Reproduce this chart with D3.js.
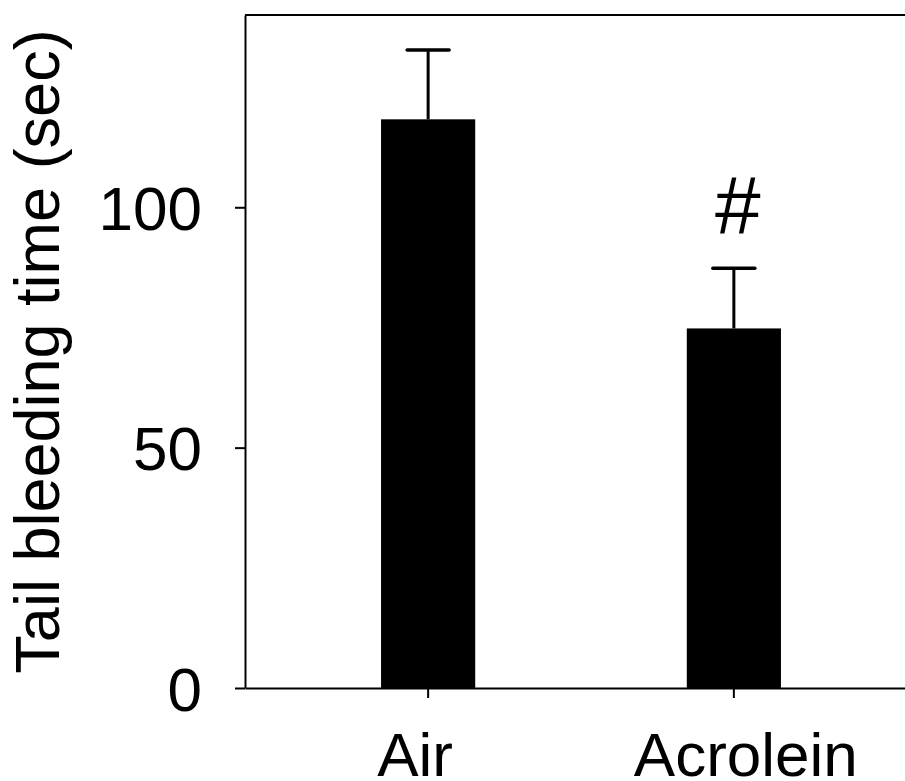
<!DOCTYPE html>
<html>
<head>
<meta charset="utf-8">
<script src="https://cdn.jsdelivr.net/npm/d3@7"></script>
<style>
  body { margin: 0; background: #fff; }
  svg { display: block; font-family: "Liberation Sans", Arial, sans-serif; }
</style>
</head>
<body>
<div id="chart"></div>
<script>
// data
const groups = ["Air", "Acrolein"];
const means = [118.3, 74.8];
const sems = [14.4, 12.5];
const marks = ["", "#"];
const yTicks = [0, 50, 100];

// set the dimensions and margins of the graph
const width = 905, height = 781;
const plotLeft = 245, plotRight = 917, plotTop = 15, plotBottom = 688;

const svg = d3.select("#chart")
  .append("svg")
  .attr("width", width)
  .attr("height", height);

const data = groups.map((g, i) => ({group: g, mean: means[i], sem: sems[i], mark: marks[i]}));

// scales
const x = d3.scaleBand()
  .domain(groups)
  .range([plotLeft, plotRight])
  .paddingInner(0.692)
  .paddingOuter(0.445);

const y = d3.scaleLinear()
  .domain([0, 140])
  .range([plotBottom, plotTop]);

// frame top line (right side falls outside the picture)
svg.append("line")
  .attr("x1", plotLeft).attr("x2", plotRight)
  .attr("y1", y(140)).attr("y2", y(140))
  .attr("stroke", "#000").attr("stroke-width", 2);

// bars
svg.selectAll("rect.bar")
  .data(data)
  .join("rect")
  .attr("class", "bar")
  .attr("x", d => x(d.group))
  .attr("y", d => y(d.mean))
  .attr("width", x.bandwidth())
  .attr("height", d => y(0) - y(d.mean))
  .attr("fill", "#000");

// error bars (upper only)
const err = svg.selectAll("g.err")
  .data(data)
  .join("g")
  .attr("class", "err")
  .attr("transform", d => `translate(${x(d.group) + x.bandwidth() / 2},0)`);
err.append("line")
  .attr("x1", 0).attr("x2", 0)
  .attr("y1", d => y(d.mean))
  .attr("y2", d => y(d.mean + d.sem))
  .attr("stroke", "#000").attr("stroke-width", 3);
err.append("line")
  .attr("x1", -21).attr("x2", 21)
  .attr("y1", d => y(d.mean + d.sem))
  .attr("y2", d => y(d.mean + d.sem))
  .attr("stroke", "#000").attr("stroke-width", 3.5)
  .attr("stroke-linecap", "round");

// significance mark
err.append("text")
  .attr("x", 4)
  .attr("y", d => y(d.mean + d.sem) - 35)
  .attr("text-anchor", "middle")
  .attr("font-size", "82px")
  .text(d => d.mark);

// y axis
const yAxis = svg.append("g")
  .attr("transform", `translate(${plotLeft},0)`)
  .call(d3.axisLeft(y).tickValues(yTicks).tickSize(10).tickSizeOuter(0).tickPadding(33));
yAxis.selectAll("text")
  .attr("font-size", "62px")
  .attr("font-family", "Liberation Sans, Arial, sans-serif")
  .attr("fill", "#000")
  .attr("dy", "0.36em");

// x axis
const xAxis = svg.append("g")
  .attr("transform", `translate(0,${plotBottom})`)
  .call(d3.axisBottom(x).tickSize(10).tickSizeOuter(0).tickFormat(""));

[yAxis, xAxis].forEach(a => {
  a.selectAll("path, line").attr("stroke", "#000").attr("stroke-width", 2);
});

// category labels
const nudge = [-13, 12];
svg.selectAll("text.cat")
  .data(groups)
  .join("text")
  .attr("class", "cat")
  .attr("x", (d, i) => x(d) + x.bandwidth() / 2 + nudge[i])
  .attr("y", 776)
  .attr("text-anchor", "middle")
  .attr("font-size", "62px")
  .text(d => d);

// y axis label
svg.append("text")
  .attr("transform", `translate(59,${(plotTop + plotBottom) / 2}) rotate(-90)`)
  .attr("text-anchor", "middle")
  .attr("font-size", "63px")
  .text("Tail bleeding time (sec)");
</script>
</body>
</html>
